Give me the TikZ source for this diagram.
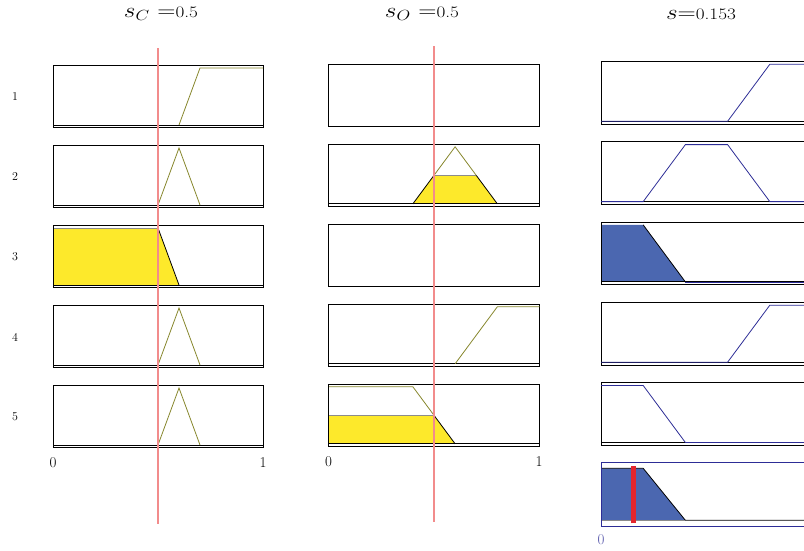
\RequirePackage{fix-cm}
\documentclass[tikz,border=0pt]{standalone}
\usepackage{fontspec}
\usepackage{graphicx}
\usepackage{tikz}
\usetikzlibrary{calc}
\definecolor{mfolive}{RGB}{135,135,45}
\definecolor{mfnavy}{RGB}{45,45,150}
\definecolor{fireyellow}{RGB}{253,233,43}
\definecolor{fireblue}{RGB}{75,103,176}
\definecolor{cutred}{RGB}{242,140,140}
\definecolor{barred}{RGB}{228,38,45}

\tikzset{
  panelbox/.style={draw=black, line width=0.9pt},
  zeroline/.style={draw=black, line width=0.9pt},
  inmf/.style={draw=mfolive, line width=0.8pt},
  outmf/.style={draw=mfnavy, line width=0.8pt},
  cutedge/.style={draw=black, line width=0.8pt},
  topedge/.style={draw=black!45, line width=0.7pt},
  cpanel/.style={shift={(53,{125+80*(#1-1)})}, x=210pt, y=57pt},
  opanel/.style={shift={(328.5,{123.8+80*(#1-1)})}, x=211pt, y=57pt},
  spanel/.style={shift={(601,{121.3+80.3*(#1-1)})}, x=211pt, y=57pt},
  rowlbl/.style={font=\fontsize{12}{14}\selectfont},
  axislbl/.style={font=\fontsize{15}{17}\selectfont},
}

\begin{document}
\begin{tikzpicture}[x=1pt, y=-1pt]
  \useasboundingbox (0,0) rectangle (804,550);

  % Titles
  \node (tc) at (161,14) {\scalebox{1.2}[1]{\fontsize{21}{25}\selectfont$s_C$ =\fontsize{16}{19}\selectfont 0.5}};
  \node (to) at (422,14) {\scalebox{1.2}[1]{\fontsize{21}{25}\selectfont$s_O$ =\fontsize{16}{19}\selectfont 0.5}};
  \node (ts) at (701,14) {\scalebox{1.2}[1]{\fontsize{21}{25}\selectfont$s$=\fontsize{16}{19}\selectfont 0.153}};

  % Rule numbers
  \foreach \r in {1,...,5} {
    \node[rowlbl] (row\r) at (15,{97+80*(\r-1)}) {\r};
  }

  % Input s_C: fills first
  \begin{scope}[cpanel=3]
    \fill[fireyellow] (0,0) -- (0,1) -- (0.5,1) -- (0.6,0) -- cycle;
    \draw[topedge] (0,1) -- (0.5,1);
    \draw[cutedge] (0.5,1) -- (0.6,0);
  \end{scope}
  \foreach \r in {1,...,5} {
    \begin{scope}[cpanel=\r]
      \draw[panelbox] (0,-0.05) rectangle (1,1.05);
      \draw[zeroline] (0,0) -- (1,0);
    \end{scope}
  }
  \begin{scope}[cpanel=1]
    \draw[inmf] (0.6,0) -- (0.7,1) -- (1,1);
  \end{scope}
  \foreach \r in {2,4,5} {
    \begin{scope}[cpanel=\r]
      \draw[inmf] (0.5,0) -- (0.6,1) -- (0.7,0);
    \end{scope}
  }

  % Input s_O
  \begin{scope}[opanel=2]
    \fill[fireyellow] (0.4,0) -- (0.5,0.5) -- (0.7,0.5) -- (0.8,0) -- cycle;
    \draw[topedge] (0.5,0.5) -- (0.7,0.5);
    \draw[cutedge] (0.4,0) -- (0.5,0.5) (0.7,0.5) -- (0.8,0);
    \draw[inmf] (0.5,0.5) -- (0.6,1) -- (0.7,0.5);
  \end{scope}
  \begin{scope}[opanel=5]
    \fill[fireyellow] (0,0) -- (0,0.5) -- (0.5,0.5) -- (0.6,0) -- cycle;
    \draw[topedge] (0,0.5) -- (0.5,0.5);
    \draw[cutedge] (0.5,0.5) -- (0.6,0);
    \draw[inmf] (0,1) -- (0.4,1) -- (0.5,0.5);
  \end{scope}
  \foreach \r in {1,...,5} {
    \begin{scope}[opanel=\r]
      \draw[panelbox] (0,-0.05) rectangle (1,1.05);
    \end{scope}
  }
  \foreach \r in {2,4,5} {
    \begin{scope}[opanel=\r]
      \draw[zeroline] (0,0) -- (1,0);
    \end{scope}
  }
  \begin{scope}[opanel=4]
    \draw[inmf] (0.6,0) -- (0.8,1) -- (1,1);
  \end{scope}

  % Output s
  \begin{scope}[spanel=3]
    \fill[fireblue] (0,0) -- (0,1) -- (0.2,1) -- (0.4,0) -- cycle;
  \end{scope}
  \foreach \r in {1,...,5} {
    \begin{scope}[spanel=\r]
      \draw[panelbox] (0,-0.05) rectangle (1,1.05);
      \draw[zeroline] (0,0) -- (1,0);
    \end{scope}
  }
  \foreach \r in {1,4} {
    \begin{scope}[spanel=\r]
      \draw[outmf] (0,0) -- (0.6,0) -- (0.8,1) -- (1,1);
    \end{scope}
  }
  \begin{scope}[spanel=2]
    \draw[outmf] (0,0) -- (0.2,0) -- (0.4,1) -- (0.6,1) -- (0.8,0) -- (1,0);
  \end{scope}
  \begin{scope}[spanel=3]
    \draw[cutedge] (0.2,1) -- (0.4,0);
    \draw[outmf] (0.4,0) -- (1,0);
  \end{scope}
  \begin{scope}[spanel=5]
    \draw[outmf] (0,1) -- (0.2,1) -- (0.4,0) -- (1,0);
  \end{scope}

  % Aggregated output
  \begin{scope}[shift={(601,520.3)}, x=211pt, y=52pt]
    \fill[fireblue] (0,0) -- (0,1) -- (0.2,1) -- (0.4,0) -- cycle;
    \draw[cutedge] (0,1) -- (0.2,1) -- (0.4,0) -- (1,0);
    \draw[topedge] (0,0) -- (0.4,0);
    \draw[mfnavy, line width=0.9pt] (0,-0.11) rectangle (1,1.11);
    \draw[barred, line width=4.5pt] (0.153,-0.06) -- (0.153,1.05);
  \end{scope}

  % Crisp inputs
  \draw[cutred, line width=1.3pt] (158,48) -- (158,524);
  \draw[cutred, line width=1.3pt] (434,46) -- (434,522);

  % Range labels
  \node[axislbl] (c0) at (53,463) {0};
  \node[axislbl] (c1) at (263,463) {1};
  \node[axislbl] (o0) at (328.5,462) {0};
  \node[axislbl] (o1) at (539,462) {1};
  \node[axislbl, text=mfnavy!80] (s0) at (601,540) {0};
\end{tikzpicture}
\end{document}
